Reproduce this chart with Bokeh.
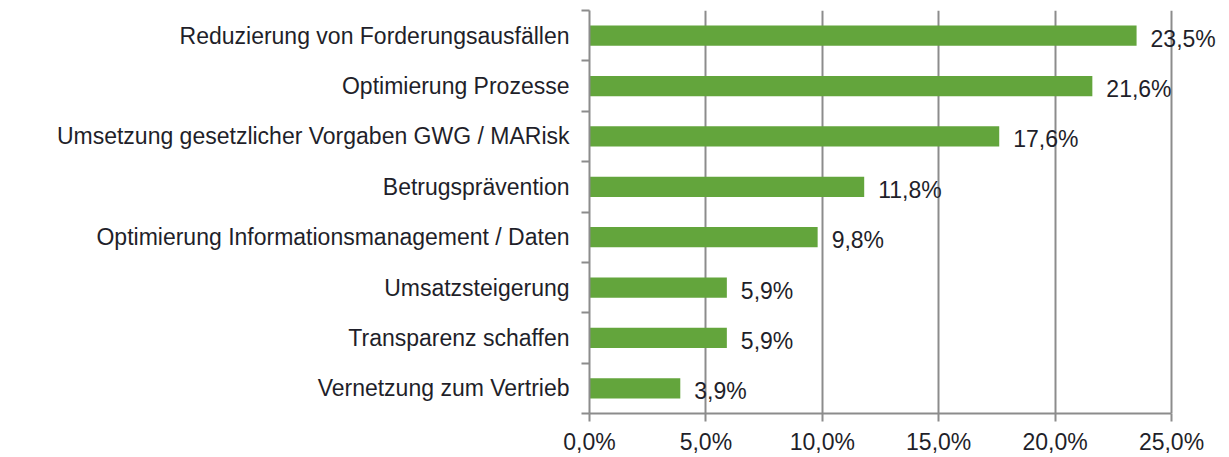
from bokeh.plotting import figure
from bokeh.models import FixedTicker, ColumnDataSource, Range1d
from bokeh.embed import file_html
from bokeh.resources import INLINE
from bokeh.core.properties import value

categories = [
    "Reduzierung von Forderungsausfällen",
    "Optimierung Prozesse",
    "Umsetzung gesetzlicher Vorgaben GWG / MARisk",
    "Betrugsprävention",
    "Optimierung Informationsmanagement / Daten",
    "Umsatzsteigerung",
    "Transparenz schaffen",
    "Vernetzung zum Vertrieb",
]
values = [23.5, 21.6, 17.6, 11.8, 9.8, 5.9, 5.9, 3.9]
x_ticks = [0, 5, 10, 15, 20, 25]
x_tick_labels = ["0,0%", "5,0%", "10,0%", "15,0%", "20,0%", "25,0%"]

n = len(categories)
ypos = [n - i - 0.5 for i in range(n)]
labels = [f"{v:.1f}".replace(".", ",") + "%" for v in values]

src = ColumnDataSource(dict(y=ypos, v=values, lab=labels))

FONT = "Liberation Sans"
FS = "23px"
TXT = "#1f1f2a"
GRID = "#8c8c8c"

# frame: 0% at x=589, 25% at x=1171; extend range to the window edge so labels are not clipped
px_per_unit = (1171 - 589) / 25.0
x_end = (1229 - 589) / px_per_unit

p = figure(width=1229, height=457, output_backend="svg", toolbar_location=None,
           x_range=Range1d(0, x_end), y_range=Range1d(0, n),
           min_border_left=589, min_border_right=0, min_border_top=10, min_border_bottom=44)
p.outline_line_color = None
p.background_fill_color = "white"

p.hbar(y="y", right="v", left=0, height=0.4, source=src, fill_color="#63a53c", line_color=None)
p.text(x="v", y="y", text="lab", source=src, x_offset=14, y_offset=3,
       text_font=value(FONT), text_font_size=FS, text_color=TXT,
       text_baseline="middle", text_align="left")

# x axis
xa = p.xaxis[0]
xa.bounds = (0, 25)
xa.ticker = FixedTicker(ticks=x_ticks)
xa.major_label_overrides = {t: l for t, l in zip(x_ticks, x_tick_labels)}
xa.axis_line_color = GRID
xa.axis_line_width = 2
xa.major_tick_line_color = GRID
xa.major_tick_line_width = 2
xa.major_tick_in = 0
xa.major_tick_out = 8
xa.minor_tick_line_color = None
xa.major_label_text_font = FONT
xa.major_label_text_font_size = FS
xa.major_label_text_color = TXT
xa.major_label_standoff = 7

# y axis
ya = p.yaxis[0]
ya.ticker = FixedTicker(ticks=ypos, minor_ticks=list(range(n + 1)))
ya.major_label_overrides = {y: c for y, c in zip(ypos, categories)}
ya.axis_line_color = GRID
ya.axis_line_width = 2
ya.major_tick_line_color = None
ya.major_tick_in = 0
ya.major_tick_out = 0
ya.minor_tick_line_color = GRID
ya.minor_tick_line_width = 2
ya.minor_tick_in = 0
ya.minor_tick_out = 8
ya.major_label_text_font = FONT
ya.major_label_text_font_size = FS
ya.major_label_text_color = TXT
ya.major_label_standoff = 12

p.ygrid.grid_line_color = None
p.xgrid.ticker = FixedTicker(ticks=x_ticks[1:])
p.xgrid.grid_line_color = GRID
p.xgrid.grid_line_width = 2

open("out.html", "w").write(file_html(p, INLINE))
